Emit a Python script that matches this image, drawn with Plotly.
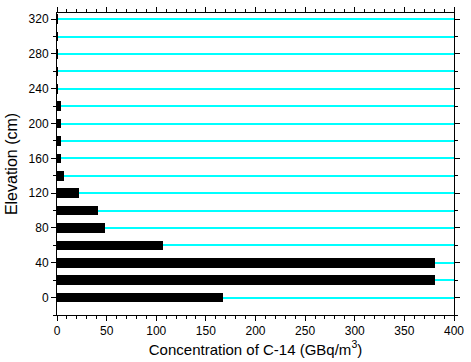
import plotly.graph_objects as go

elevation = [0, 20, 40, 60, 80, 100, 120, 140, 160, 180, 200, 220, 240, 260, 280, 300, 320]
concentration = [167, 381, 381, 107, 48, 41, 22, 7, 4, 4, 4, 4, 0.8, 0.8, 0.8, 0.8, 0.8]

fig = go.Figure()
fig.add_trace(go.Bar(
    x=concentration, y=elevation, orientation="h",
    width=11, marker=dict(color="black", line=dict(width=0)),
))

font = "Liberation Sans, Arial, sans-serif"
fig.update_layout(
    width=471, height=362,
    margin=dict(l=57, r=9, t=7, b=47),
    paper_bgcolor="white", plot_bgcolor="white",
    showlegend=False,
    font=dict(family=font, size=12, color="black"),
    bargap=0,
)
fig.update_xaxes(
    range=[0, 400], dtick=50, tick0=0,
    showline=True, linecolor="black", linewidth=1, mirror="ticks",
    ticks="outside", ticklen=5, tickcolor="black",
    minor=dict(dtick=10, ticks="outside", ticklen=3, tickcolor="black"),
    showgrid=False, zeroline=False,
    title=dict(text="Concentration of C-14 (GBq/m<sup>3</sup>)", font=dict(size=15), standoff=6),
)
fig.update_yaxes(
    range=[-20, 327], dtick=40, tick0=0,
    showline=True, linecolor="black", linewidth=1, mirror="ticks",
    ticks="outside", ticklen=5, tickcolor="black",
    minor=dict(dtick=20, ticks="outside", ticklen=3, tickcolor="black",
               showgrid=True, gridcolor="#00ffff", gridwidth=1.5),
    showgrid=True, gridcolor="#00ffff", gridwidth=1.5,
    zeroline=False,
    title=dict(text="Elevation (cm)", font=dict(size=16), standoff=6),
)
fig.write_html("out.html")
